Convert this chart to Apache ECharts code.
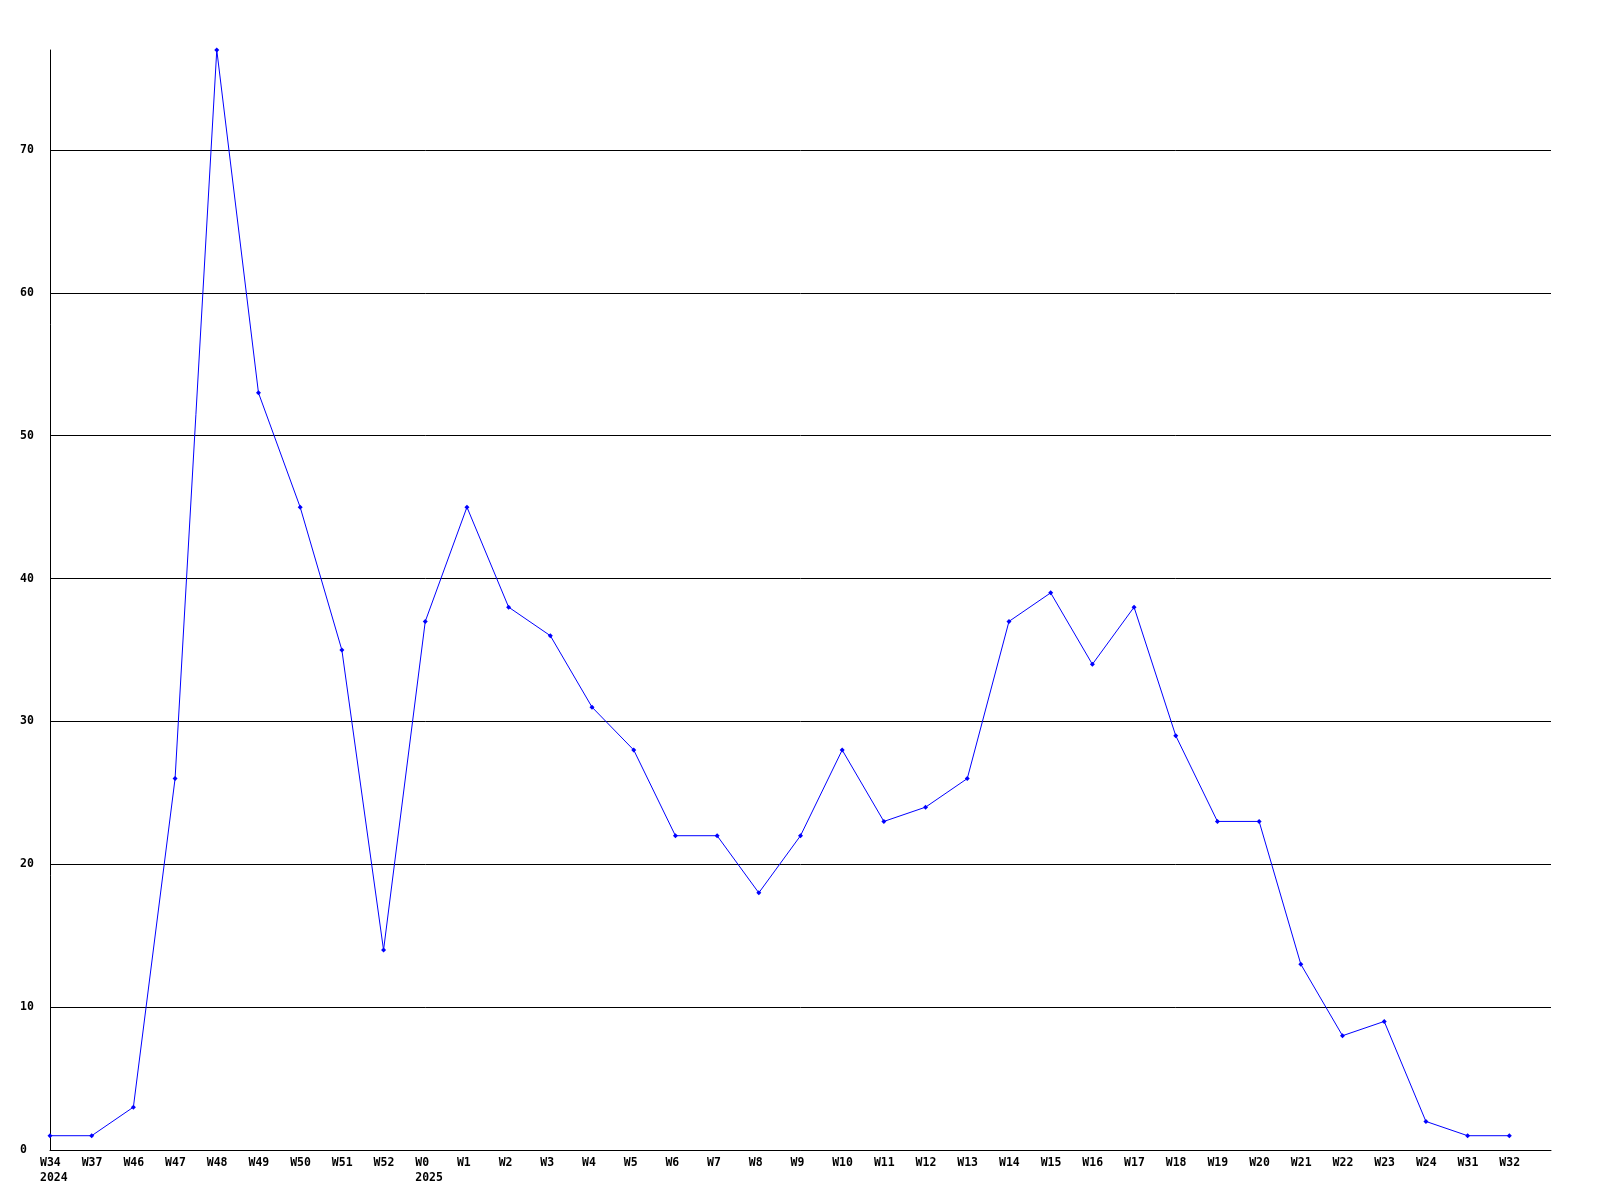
<!DOCTYPE html>
<html>
<head>
<meta charset="utf-8">
<script src="https://cdn.jsdelivr.net/npm/echarts@6/dist/echarts.min.js"></script>
<style>html,body{margin:0;padding:0;background:#fff}#c{width:1600px;height:1200px}</style>
</head>
<body>
<div id="c"></div>
<script>
const weeks = ["W34","W37","W46","W47","W48","W49","W50","W51","W52","W0","W1","W2","W3","W4","W5","W6","W7","W8","W9","W10","W11","W12","W13","W14","W15","W16","W17","W18","W19","W20","W21","W22","W23","W24","W31","W32"];
const yearLabels = {"W34":"2024","W0":"2025"};
const counts = [1,1,3,26,77,53,45,35,14,37,45,38,36,31,28,22,22,18,22,28,23,24,26,37,39,34,38,29,23,23,13,8,9,2,1,1];
const yMax = 77;
const yInterval = 10;

const chart = echarts.init(document.getElementById('c'), null, {renderer:'canvas'});
const font = {fontFamily:'DejaVu Sans Mono', fontWeight:'bold', fontSize:11.5, color:'#000'};
chart.setOption({
  animation:false,
  backgroundColor:'#fff',
  grid:{left:50,right:49,top:50,bottom:50,containLabel:false},
  xAxis:{
    type:'value', min:0, max:weeks.length, interval:1,
    axisLine:{show:true,lineStyle:{color:'#000',width:1}},
    axisTick:{show:false},
    splitLine:{show:false},
    axisLabel:Object.assign({
      margin:6, lineHeight:15, showMaxLabel:true, showMinLabel:true,
      align:'left', padding:[0,0,0,-10], hideOverlap:false,
      formatter:function(v){
        const w = weeks[v];
        if(w===undefined) return '';
        return yearLabels[w] ? w+'\n'+yearLabels[w] : w;
      }
    },font)
  },
  yAxis:{
    type:'value', min:0, max:yMax, interval:yInterval,
    axisLine:{show:true,lineStyle:{color:'#000',width:1}},
    axisTick:{show:false},
    splitLine:{show:true,lineStyle:{color:['#000','#000','#000','#000','#000','#000','#000','#000','rgba(0,0,0,0)'],width:1}},
    axisLabel:Object.assign({
      margin:30, align:'left', showMaxLabel:false,
      formatter:function(v){ return v>=yMax ? '' : String(v); }
    },font)
  },
  series:[{
    type:'line',
    data:counts.map(function(c,i){return [i,c];}),
    lineStyle:{color:'#0000ff',width:1},
    itemStyle:{color:'#0000ff'},
    symbol:'diamond', symbolSize:5, showSymbol:true
  }]
});
</script>
</body>
</html>
